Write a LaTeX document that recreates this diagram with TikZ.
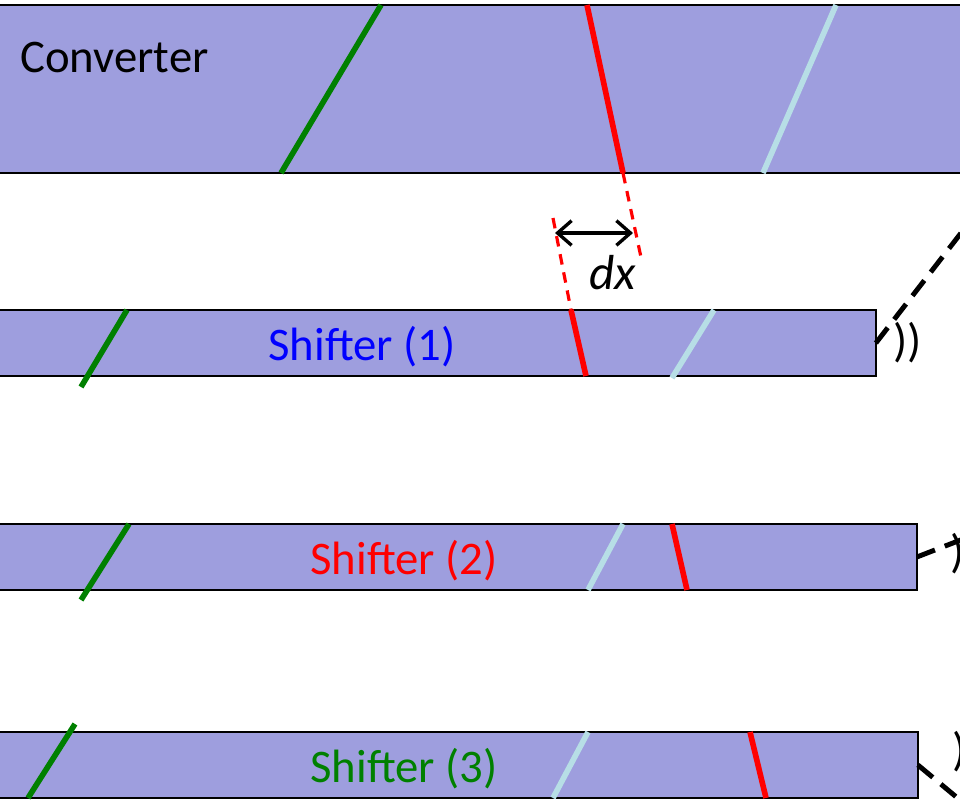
\documentclass[tikz,border=0pt]{standalone}
\usepackage{fontspec}
\setmainfont{Carlito}
\usetikzlibrary{arrows.meta,positioning}
\definecolor{boxfill}{RGB}{158,158,222}
\definecolor{phGreen}{RGB}{0,128,0}
\definecolor{phRed}  {RGB}{255,0,0}
\definecolor{phCyan} {RGB}{183,222,230}
\definecolor{phBlue} {RGB}{0,0,255}

\begin{document}
\begin{tikzpicture}[x=0.02cm, y=-0.02cm,
  panel/.style={draw=black, line width=1.1pt, fill=boxfill, inner sep=0pt, outer sep=0pt},
  front/.style={line width=3.2pt},
  guide/.style={phRed, line width=1.8pt, dash pattern=on 6pt off 4.5pt},
  beam/.style={black, line width=2.8pt, dash pattern=on 11pt off 6pt},
  lbl/.style={font=\fontsize{26.6}{32}\selectfont, inner sep=0pt}]
\useasboundingbox (0,0) rectangle (960,800);
\clip (0,0) rectangle (960,800);
% boxes
\node[panel, minimum width=19.6cm, minimum height=3.36cm] (conv) at (480,89) {};
\node[panel, minimum width=17.72cm, minimum height=1.32cm] (s1) at (433,343) {};
\node[panel, minimum width=18.54cm, minimum height=1.32cm] (s2) at (453.5,557) {};
\node[panel, minimum width=18.56cm, minimum height=1.32cm] (s3) at (454,765) {};
% wave fronts in the converter
\draw[front, phGreen] (381,5) -- (281,173);
\draw[front, phRed] (587,5) -- (623,173);
\draw[front, phCyan] (836,5) -- (763,173);
% shifter (1)
\draw[front, phGreen] (127,310) -- (81,387);
\draw[front, phRed] (571,310) -- (586,376);
\draw[front, phCyan] (714,310) -- (672,378);
% shifter (2)
\draw[front, phGreen] (129,524) -- (81,600);
\draw[front, phCyan] (623,524) -- (588,590);
\draw[front, phRed] (672,524) -- (687,590);
% shifter (3)
\draw[front, phGreen] (75,724) -- (28,798);
\draw[front, phCyan] (588,732) -- (553,798);
\draw[front, phRed] (750,732) -- (766,798);
% guides and dx
\draw[guide] (623,173) -- (642,262);
\draw[guide] (553,218) -- (571,310);
\coordinate (dxL) at (555,233);
\coordinate (dxR) at (633,233);
\draw[{Straight Barb[length=8pt,width=14pt]}-{Straight Barb[length=8pt,width=14pt]}, line width=1.9pt] (dxL) -- (dxR);
\node[lbl, anchor=base, font=\fontsize{28}{32}\selectfont\itshape] (dxlbl) at (613,290) {dx};
% labels
\node[lbl, anchor=base west] (convlbl) at (20,73) {Converter};
\node[lbl, anchor=base, text=phBlue] (s1lbl) at (362,360) {Shifter (1)};
\node[lbl, anchor=base, text=phRed] (s2lbl) at (404,574) {Shifter (2)};
\node[lbl, anchor=base, text=phGreen] (s3lbl) at (404,782) {Shifter (3)};
% outgoing beams
\draw[beam] (s1.east) -- ++(164,-212);
\draw[beam] (s2.east) -- ++(90,-35);
\draw[beam] (s3.east) -- ++(60,50);
\node[lbl, anchor=base west] (s1wave) at (893,357) {))};
\node[lbl, anchor=base west] (s2wave) at (950,567) {))};
\node[lbl, anchor=base west] (s3wave) at (952,765) {))};
\end{tikzpicture}
\end{document}
